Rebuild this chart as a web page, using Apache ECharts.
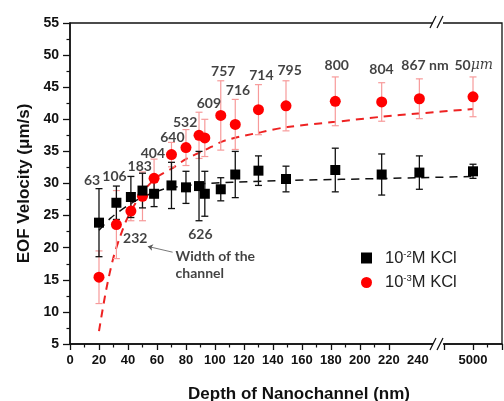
<!DOCTYPE html>
<html>
<head>
<meta charset="utf-8">
<script src="https://cdn.jsdelivr.net/npm/echarts@6/dist/echarts.min.js"></script>
<style>
html, body { margin: 0; padding: 0; background: #fff; }
#chart { width: 504px; height: 401px; }
</style>
</head>
<body>
<div id="chart"></div>
<script>
// depth of nanochannel (nm), shared by both concentrations
var depths = [20, 32, 42, 50, 58, 70, 80, 89, 93, 104, 114, 130, 149, 183, 215, 241, 5000];

// 10^-2 M KCl
var velHigh = [23.9, 27.0, 27.9, 28.9, 28.4, 29.7, 29.4, 29.6, 28.4, 29.1, 31.4, 32.0, 30.7, 32.1, 31.4, 31.7, 31.9];
var errHigh = [5.3, 2.6, 3.2, 2.7, 2.0, 3.6, 2.5, 5.4, 3.5, 1.8, 3.6, 2.3, 2.0, 3.4, 3.2, 2.6, 1.1];

// 10^-3 M KCl
var velLow = [15.4, 23.6, 25.7, 28.0, 30.8, 34.5, 35.6, 37.5, 37.1, 40.6, 39.2, 41.5, 42.1, 42.8, 42.7, 43.2, 43.5];
var errLow = [4.1, 5.3, 1.5, 3.8, 3.0, 1.9, 2.8, 3.6, 2.9, 5.4, 3.9, 3.9, 3.9, 3.8, 3.0, 3.1, 3.1];

// dashed fit curves
var fitHighX = [20, 28, 40, 50, 58, 66, 89, 112, 153, 187, 241, 5000];
var fitHighY = [22.7, 24.6, 26.6, 27.9, 28.6, 29.2, 29.9, 30.2, 30.5, 30.65, 30.9, 31.1];
var fitLowX = [20, 25, 30, 35, 40, 50, 60, 70, 80, 93, 107, 132, 150, 183, 215, 240, 5000];
var fitLowY = [7.0, 13.5, 18.5, 22.0, 24.8, 28.6, 31.0, 32.3, 33.8, 35.2, 36.7, 38.0, 38.8, 39.6, 40.4, 40.9, 41.6];

// channel width annotations
var noteText = ['63', '106', '183', '404', '640', '532', '609', '757', '716', '714', '795', '800', '804', '867 nm', '50{i|μm}', '232', '626'];
var noteX = [15.2, 30.7, 48.1, 57.2, 70.6, 79.4, 95.8, 105.7, 115.9, 132, 151.5, 184, 214.9, 244.9, 5000.5, 45, 89.9];
var noteY = [30.4, 31.1, 32.6, 34.7, 37.2, 39.5, 42.5, 47.4, 44.5, 46.9, 47.6, 48.4, 47.8, 48.4, 48.4, 21.4, 22.0];

var xTicks = [0, 20, 40, 60, 80, 100, 120, 140, 160, 180, 200, 220, 240, 5000];

function pairs(xs, ys) {
	var out = [];
	for (var i = 0; i < xs.length; i++) out.push([xs[i], ys[i]]);
	return out;
}

function bars(vals, errs) {
	var out = [];
	for (var i = 0; i < depths.length; i++) out.push([depths[i], vals[i] - errs[i], vals[i] + errs[i]]);
	return out;
}

function errorBar(color, lw) {
	return function(params, api) {
		var x = api.value(0);
		var top = api.coord([x, api.value(2)]);
		var bot = api.coord([x, api.value(1)]);
		var w = 3.5;
		var st = { stroke: color, lineWidth: lw };
		return {
			type: 'group',
			children: [
				{ type: 'line', shape: { x1: top[0], y1: top[1], x2: bot[0], y2: bot[1] }, style: st },
				{ type: 'line', shape: { x1: top[0] - w, y1: top[1], x2: top[0] + w, y2: top[1] }, style: st },
				{ type: 'line', shape: { x1: bot[0] - w, y1: bot[1], x2: bot[0] + w, y2: bot[1] }, style: st }
			]
		};
	};
}

var notes = [];
for (var i = 0; i < noteText.length; i++) notes.push([noteX[i], noteY[i], noteText[i]]);
notes.push({
	value: [72.8, 17.3, 'Width of the\nchannel'],
	label: { align: 'left', lineHeight: 17 }
});

var chart = echarts.init(document.getElementById('chart'));

var option = {
	animation: false,
	grid: {
		left: 70, right: 2, top: 23, bottom: 57, outerBoundsMode: 'none', containLabel: false,
		show: true, borderColor: '#111', borderWidth: 1.3, backgroundColor: 'transparent'
	},
	legend: {
		orient: 'vertical',
		left: 356, top: 244,
		itemWidth: 11, itemHeight: 11, itemGap: 7,
		data: ['c2', 'c3'],
		formatter: function(name) {
			return name === 'c2' ? '{p|}{b|10}{s|-2}{b|M KCl}' : '{p|}{b|10}{s|-3}{b|M KCl}';
		},
		textStyle: {
			rich: {
				p: { width: 8 },
				b: { fontFamily: 'Liberation Sans', fontSize: 16.5, color: '#222', lineHeight: 18 },
				s: { fontFamily: 'Liberation Sans', fontSize: 9.5, color: '#222', lineHeight: 9, verticalAlign: 'top' }
			}
		}
	},
	xAxis: {
		type: 'value', min: 0, max: 5020, interval: 20,
		breaks: [{ start: 252, end: 4980, gap: 6 }],
		breakArea: {
			show: false,
			itemStyle: { color: 'transparent', borderColor: 'transparent', opacity: 0 },
			zigzagAmplitude: 0
		},
		name: 'Depth of Nanochannel (nm)',
		nameLocation: 'middle', nameGap: 42, nameMoveOverlap: false,
		nameTextStyle: { fontFamily: 'Liberation Sans', fontWeight: 'bold', fontSize: 17, color: '#111', padding: [0, 0, 0, 26] },
		splitLine: { show: false },
		axisLine: { lineStyle: { color: '#111', width: 1.5 } },
		axisTick: { inside: false, length: 6, lineStyle: { color: '#111', width: 1.3 } },
		minorTick: { show: true, splitNumber: 2, length: 3.5, lineStyle: { color: '#111', width: 1.2 } },
		axisLabel: {
			margin: 10, hideOverlap: false, customValues: xTicks,
			fontFamily: 'Liberation Sans', fontWeight: 'bold', fontSize: 13, color: '#111',
			formatter: function(v) { return String(v); }
		}
	},
	yAxis: {
		type: 'value', min: 5, max: 55, interval: 5,
		name: 'EOF Velocity (μm/s)',
		nameLocation: 'middle', nameGap: 37, nameMoveOverlap: false,
		nameTextStyle: { fontFamily: 'Liberation Sans', fontWeight: 'bold', fontSize: 17, color: '#111' },
		splitLine: { show: false },
		axisLine: { show: true, lineStyle: { color: '#111', width: 1.5 } },
		axisTick: { inside: false, length: 7, lineStyle: { color: '#111', width: 1.3 } },
		minorTick: { show: true, splitNumber: 2, length: 3.5, lineStyle: { color: '#111', width: 1.2 } },
		axisLabel: { margin: 11, fontFamily: 'Liberation Sans', fontWeight: 'bold', fontSize: 14, color: '#111' }
	},
	series: [
		{
			type: 'line', data: pairs(fitLowX, fitLowY), smooth: 0.3, showSymbol: false, silent: true,
			lineStyle: { color: '#ee2222', width: 2, type: [8, 6] }, z: 1
		},
		{
			type: 'line', data: pairs(fitHighX, fitHighY), smooth: 0.3, showSymbol: false, silent: true,
			lineStyle: { color: '#111', width: 1.5, type: [8, 6] }, z: 1
		},
		{
			type: 'custom', renderItem: errorBar('#f79a9a', 1.2), data: bars(velLow, errLow),
			encode: { x: 0, y: [1, 2] }, z: 2
		},
		{
			type: 'custom', renderItem: errorBar('#111', 1.3), data: bars(velHigh, errHigh),
			encode: { x: 0, y: [1, 2] }, z: 3
		},
		{
			name: 'c3', type: 'scatter', data: pairs(depths, velLow), symbol: 'circle', symbolSize: 11,
			itemStyle: { color: '#ff0000', opacity: 1 }, z: 4
		},
		{
			name: 'c2', type: 'scatter', data: pairs(depths, velHigh), symbol: 'rect', symbolSize: 10,
			itemStyle: { color: '#000', opacity: 1 }, z: 5
		},
		{
			type: 'scatter', data: notes, symbolSize: 0, silent: true, z: 6,
			label: {
				show: true, position: 'inside',
				fontFamily: 'Lato', fontWeight: 'bold', fontSize: 14, color: '#111',
				formatter: function(p) { return p.value[2]; },
				rich: { i: { fontFamily: 'DejaVu Serif', fontStyle: 'italic', fontWeight: 'normal', fontSize: 14, color: '#111' } }
			},
			markLine: {
				silent: true, symbol: ['none', 'arrow'], symbolSize: 5,
				lineStyle: { color: '#555', width: 0.8, type: 'solid' },
				label: { show: false },
				data: [[{ coord: [70.8, 19.3] }, { coord: [53.7, 20.2] }]]
			}
		}
	],
	graphic: [
		{ type: 'rect', shape: { x: 433, y: 15, width: 10, height: 14 }, style: { fill: '#fff' }, z: 100 },
		{ type: 'polyline', shape: { points: [[430, 28], [436, 16]] }, style: { stroke: '#111', lineWidth: 1.2 }, z: 101 },
		{ type: 'polyline', shape: { points: [[437, 28], [443, 16]] }, style: { stroke: '#111', lineWidth: 1.2 }, z: 101 },
		{ type: 'rect', shape: { x: 433, y: 338, width: 10, height: 14 }, style: { fill: '#fff' }, z: 100 },
		{ type: 'polyline', shape: { points: [[430, 350], [436, 338]] }, style: { stroke: '#111', lineWidth: 1.2 }, z: 101 },
		{ type: 'polyline', shape: { points: [[437, 350], [443, 338]] }, style: { stroke: '#111', lineWidth: 1.2 }, z: 101 }
	]
};

chart.setOption(option);
</script>
</body>
</html>
